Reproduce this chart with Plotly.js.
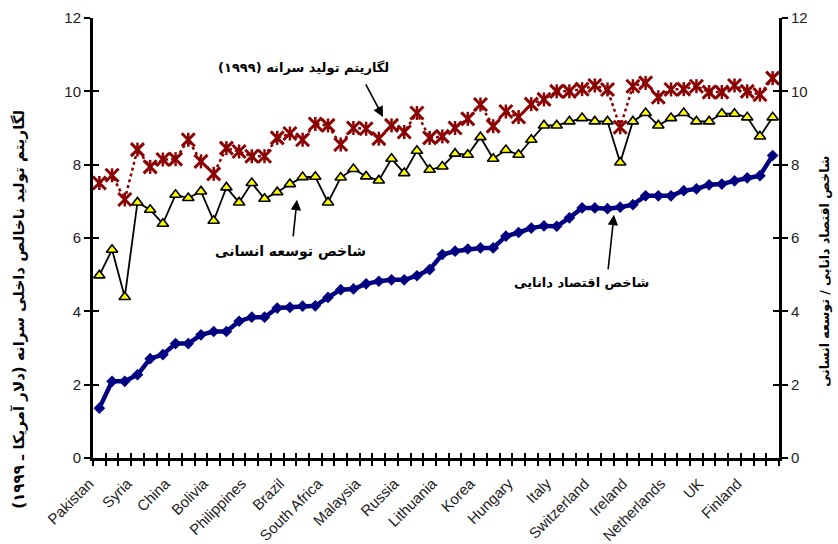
<!DOCTYPE html>
<html>
<head>
<meta charset="utf-8">
<script src="https://cdn.plot.ly/plotly-3.0.1.min.js"></script>
<style>html,body{margin:0;padding:0;background:#fff;}#chart{width:838px;height:544px;}</style>
</head>
<body>
<div id="chart"></div>
<script>
// ---- data (54 countries, ordered by knowledge economy index) ----
const tickLabels = ['Pakistan','Syria','China','Bolivia','Philippines','Brazil','South Africa','Malaysia','Russia','Lithuania','Korea','Hungary','Italy','Switzerland','Ireland','Netherlands','UK','Finland'];
const labelStep = 3;

const logGdp = [7.5,7.71,7.05,8.41,7.94,8.14,8.15,8.68,8.09,7.75,8.45,8.36,8.23,8.23,8.73,8.85,8.68,9.11,9.07,8.55,
  9.0,8.98,8.71,9.07,8.89,9.41,8.73,8.77,9.0,9.25,9.64,9.05,9.45,9.3,9.65,9.78,10.0,10.0,10.06,10.16,
  10.05,9.02,10.14,10.23,9.84,10.05,10.06,10.14,9.98,9.98,10.16,10.0,9.91,10.36];

const hdi = [4.98,5.68,4.39,6.97,6.77,6.39,7.18,7.09,7.27,6.47,7.38,6.97,7.5,7.07,7.25,7.47,7.66,7.67,6.97,7.65,
  7.88,7.68,7.57,8.16,7.77,8.38,7.86,7.95,8.3,8.27,8.75,8.16,8.4,8.27,8.68,9.07,9.07,9.18,9.27,9.18,
  9.18,8.06,9.18,9.41,9.07,9.27,9.41,9.18,9.18,9.39,9.39,9.29,8.77,9.29];

const kei = [1.36,2.09,2.09,2.27,2.71,2.82,3.12,3.12,3.36,3.45,3.45,3.73,3.84,3.84,4.09,4.11,4.14,4.15,4.38,4.59,
  4.61,4.75,4.82,4.86,4.86,4.97,5.14,5.55,5.64,5.7,5.73,5.73,6.05,6.15,6.27,6.33,6.32,6.55,6.82,6.82,
  6.8,6.84,6.91,7.15,7.15,7.15,7.29,7.34,7.45,7.47,7.56,7.64,7.7,8.25];

const yMax = 12;
const yStep = 2;
// ---------------------------------------------------------------

const n = kei.length;
const xs = Array.from({length: n}, (_, i) => i);
const tickVals = tickLabels.map((_, k) => k * labelStep);

const RED = '#8B0000', NAVY = '#000080';
const ar = (size) => ({family: 'DejaVu Sans', size: size, color: '#000'});
const numFont = {family: 'Liberation Sans, Arial', size: 15, color: '#222'};

const traces = [
  {x: xs, y: logGdp, mode: 'lines', line: {color: RED, width: 2.5, dash: 'dot'}, hoverinfo: 'skip'},
  {x: xs, y: logGdp, mode: 'markers', marker: {symbol: 'x-thin-open', size: 13, color: RED, line: {color: RED, width: 3}}},
  {x: xs, y: logGdp, mode: 'markers', marker: {symbol: 'line-ns-open', size: 10, color: RED, line: {color: RED, width: 2.5}}, hoverinfo: 'skip'},
  {x: xs, y: hdi, mode: 'lines+markers', line: {color: '#000', width: 1.8},
   marker: {symbol: 'triangle-up', size: 10, color: '#FFFF00', line: {color: '#000', width: 1.6}}},
  {x: xs, y: kei, mode: 'lines+markers', line: {color: NAVY, width: 4.5},
   marker: {symbol: 'diamond', size: 9, color: NAVY}},
  // helper traces so the overlay axes (tick crosses / right axis) are drawn
  {x: [0], y: [null], xaxis: 'x2', yaxis: 'y', hoverinfo: 'skip'},
  {x: [0], y: [null], xaxis: 'x3', yaxis: 'y', hoverinfo: 'skip'},
  {x: [0], y: [null], xaxis: 'x', yaxis: 'y2', hoverinfo: 'skip'},
  {x: [0], y: [null], xaxis: 'x', yaxis: 'y3', hoverinfo: 'skip'},
  {x: [0], y: [null], xaxis: 'x', yaxis: 'y4', hoverinfo: 'skip'}
];

const xr = [-0.5, n - 0.5];
const yr = [0, yMax];
const PX = (px) => (px - 93) / 686;
const PY = (py) => (458.5 - py) / 440.5;

const layout = {
  width: 838, height: 544,
  margin: {l: 93, r: 59, t: 18, b: 86},
  paper_bgcolor: '#fff', plot_bgcolor: '#fff',
  showlegend: false,
  xaxis: {range: xr, tickmode: 'linear', tick0: -0.5, dtick: 1, ticks: 'outside', ticklen: 5, tickwidth: 2, tickcolor: '#000',
          showticklabels: false, showline: true, linecolor: '#000', linewidth: 3, showgrid: false, zeroline: false, fixedrange: true},
  xaxis2: {overlaying: 'x', anchor: 'y', range: xr, tickmode: 'array', tickvals: tickVals, ticktext: tickLabels,
           tickangle: -45, ticks: '', ticklabelstandoff: 13, ticklabelshift: -10,
           tickfont: {family: 'Liberation Sans, Arial', size: 15, color: '#222'},
           showline: false, showgrid: false, zeroline: false},
  xaxis3: {overlaying: 'x', anchor: 'y', range: xr, tickmode: 'linear', tick0: -0.5, dtick: 1, ticks: 'inside', ticklen: 5, tickwidth: 2, tickcolor: '#000',
           showticklabels: false, showline: false, showgrid: false, zeroline: false},
  yaxis: {range: yr, dtick: yStep, ticks: 'outside', ticklen: 6, tickwidth: 2, tickcolor: '#000', tickfont: numFont,
          showline: true, linecolor: '#000', linewidth: 3, showgrid: false, zeroline: false},
  yaxis3: {overlaying: 'y', anchor: 'x', range: yr, dtick: yStep, ticks: 'inside', ticklen: 6, tickwidth: 2, tickcolor: '#000',
           showticklabels: false, showline: false, showgrid: false, zeroline: false},
  yaxis2: {overlaying: 'y', side: 'right', anchor: 'x', range: yr, dtick: yStep, ticks: 'outside', ticklen: 6, tickwidth: 2, tickcolor: '#000',
           tickfont: numFont, showline: true, linecolor: '#000', linewidth: 3, showgrid: false, zeroline: false},
  yaxis4: {overlaying: 'y', side: 'right', anchor: 'x', range: yr, dtick: yStep, ticks: 'inside', ticklen: 6, tickwidth: 2, tickcolor: '#000',
           showticklabels: false, showline: false, showgrid: false, zeroline: false},
  annotations: [
    // axis titles
    {xref: 'paper', yref: 'paper', x: PX(19), y: PY(310), xanchor: 'center', yanchor: 'middle', textangle: -90,
     text: '<b>لگاریتم تولید ناخالص داخلی سرانه (دلار آمریکا ـ ۱۹۹۹)</b>', showarrow: false, font: ar(15)},
    {xref: 'paper', yref: 'paper', x: PX(825), y: PY(272), xanchor: 'center', yanchor: 'middle', textangle: -90,
     text: '<b>شاخص اقتصاد دانایی / توسعه انسانی</b>', showarrow: false, font: ar(12.5)},
    // series labels
    {xref: 'paper', yref: 'paper', x: PX(303), y: PY(68), xanchor: 'center', yanchor: 'middle',
     text: '<b>لگاریتم تولید سرانه (۱۹۹۹)</b>', showarrow: false, font: ar(13)},
    {xref: 'paper', yref: 'paper', x: PX(383), y: PY(117), ax: -18, ay: -34,
     showarrow: true, arrowhead: 2, arrowsize: 1.3, arrowwidth: 1.6, arrowcolor: '#000', text: ''},
    {xref: 'paper', yref: 'paper', x: PX(290), y: PY(252), xanchor: 'center', yanchor: 'middle',
     text: '<b>شاخص توسعه انسانی</b>', showarrow: false, font: ar(14)},
    {xref: 'paper', yref: 'paper', x: PX(297), y: PY(200), ax: -4, ay: 38,
     showarrow: true, arrowhead: 2, arrowsize: 1.3, arrowwidth: 1.6, arrowcolor: '#000', text: ''},
    {xref: 'paper', yref: 'paper', x: PX(581), y: PY(283), xanchor: 'center', yanchor: 'middle',
     text: '<b>شاخص اقتصاد دانایی</b>', showarrow: false, font: ar(13)},
    {xref: 'paper', yref: 'paper', x: PX(614), y: PY(215), ax: -6, ay: 56,
     showarrow: true, arrowhead: 2, arrowsize: 1.3, arrowwidth: 1.6, arrowcolor: '#000', text: ''}
  ]
};

Plotly.newPlot('chart', traces, layout, {displayModeBar: false, staticPlot: true});
</script>
</body>
</html>
